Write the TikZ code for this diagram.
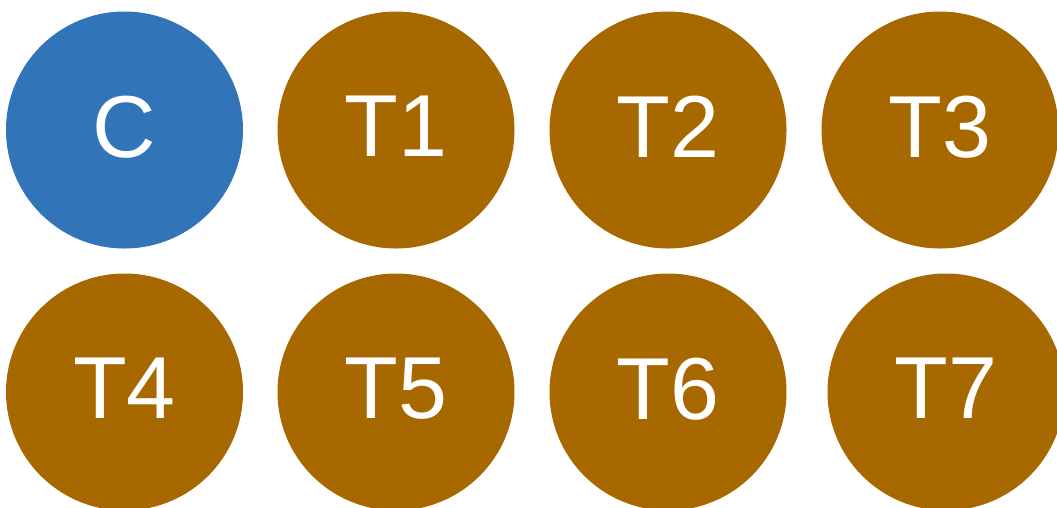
\documentclass[tikz,border=0pt]{standalone}
\usepackage{fontspec}
\setmainfont{Liberation Sans}
\usepackage{xcolor}
\definecolor{hubblue}{RGB}{50,116,184}
\definecolor{taskbrown}{RGB}{168,104,0}

\begin{document}
\begin{tikzpicture}[
		x=1pt, y=-1pt,
		hub/.style  = {circle, fill=hubblue,	text=white, inner sep=0pt, minimum size=237pt, text depth=7pt, font=\fontsize{88}{88}\selectfont},
		task/.style = {circle, fill=taskbrown,	text=white, inner sep=0pt, minimum size=237pt, text depth=7pt, font=\fontsize{88}{88}\selectfont}
		]
		
		\useasboundingbox (0, 0) rectangle (1057, 507);
		\clip (0, 0) rectangle (1057, 507);
		
		%Nodes
		\node[hub]	(c)		at	(124.5, 130)	{C};
		\node[task]	(t1)	at	(396, 130)		{T1};
		\node[task]	(t2)	at	(668, 130)		{T2};
		\node[task]	(t3)	at	(940, 130)		{T3};
		\node[task]	(t4)	at	(124.5, 392)	{T4};
		\node[task]	(t5)	at	(396, 392)		{T5};
		\node[task]	(t6)	at	(668, 392)		{T6};
		\node[task]	(t7)	at	(946, 392)		{T7};
	\end{tikzpicture}
\end{document}
